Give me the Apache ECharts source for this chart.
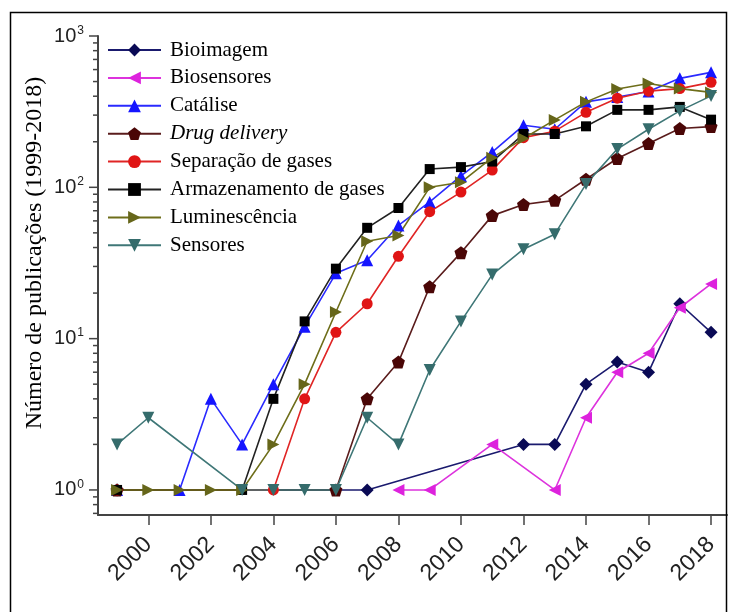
<!DOCTYPE html>
<html>
<head>
<meta charset="utf-8">
<script src="https://cdn.jsdelivr.net/npm/echarts@6/dist/echarts.min.js"></script>
<style>
  html, body { margin: 0; padding: 0; background: #ffffff; }
  #chart { width: 729px; height: 612px; }
</style>
</head>
<body>
<div id="chart"></div>
<script>
// Publication counts per research area, 1999–2018 (null = no publications recorded)
const years = [1999, 2000, 2001, 2002, 2003, 2004, 2005, 2006, 2007, 2008,
               2009, 2010, 2011, 2012, 2013, 2014, 2015, 2016, 2017, 2018];

const bioimagem      = [1, null, null, null, null, null, null, null, 1, null,
                        null, null, null, 2, 2, 5, 7, 6, 17, 11];
const biosensores    = [null, null, null, null, null, null, null, null, null, 1,
                        1, null, 2, null, 1, 3, 6, 8, 16, 23];
const catalise       = [1, null, 1, 4, 2, 5, 12, 27, 33, 56,
                        80, 119, 171, 257, 242, 367, 395, 430, 525, 575];
const drugDelivery   = [1, null, null, null, null, null, null, 1, 4, 7,
                        22, 37, 65, 77, 82, 113, 155, 195, 245, 252];
const separacaoGases = [1, null, null, null, null, 1, 4, 11, 17, 35,
                        69, 93, 130, 213, 235, 313, 388, 432, 449, 494];
const armazenamento  = [1, null, null, null, 1, 4, 13, 29, 54, 73,
                        132, 136, 148, 225, 225, 253, 325, 325, 340, 280];
const luminescencia  = [1, 1, 1, 1, 1, 2, 5, 15, 44, 48,
                        100, 108, 157, 210, 279, 367, 446, 486, 449, 424];
const sensores       = [2, 3, null, null, 1, 1, 1, 1, 3, 2,
                        6.2, 13, 26.5, 39, 49, 105, 179, 242, 320, 402];

const seriesNames = ['Bioimagem', 'Biosensores', 'Catálise', 'Drug delivery',
                     'Separação de gases', 'Armazenamento de gases', 'Luminescência', 'Sensores'];

// Axis ticks
const xTickYears = [2000, 2002, 2004, 2006, 2008, 2010, 2012, 2014, 2016, 2018];
const yMajorTicks = [1, 10, 100, 1000];
const yMinorTicks = [0.7, 0.8, 0.9];
for (const decade of [1, 10, 100]) {
  for (let k = 2; k <= 9; k++) yMinorTicks.push(k * decade);
}

const yAxisTitle = 'Número de publicações (1999-2018)';

// Marker shapes
const DIAMOND = 'path://M0,-1 L1,0 L0,1 L-1,0 Z';
const PENTAGON = 'path://M0,-1 L0.951,-0.309 L0.588,0.809 L-0.588,0.809 L-0.951,-0.309 Z';

const SANS = '"Liberation Sans", Arial, sans-serif';
const SERIF = '"Liberation Serif", "Times New Roman", serif';

function toPairs(values) {
  return years.map((y, i) => (values[i] == null ? null : [y, values[i]])).filter(Boolean);
}

function lineSeries(name, values, color, symbol, size, rotate, markColor) {
  return {
    name: name,
    type: 'line',
    data: toPairs(values),
    symbol: symbol,
    symbolSize: size,
    symbolRotate: rotate,
    showAllSymbol: true,
    lineStyle: { color: color, width: 1.6 },
    itemStyle: { color: markColor || color, borderWidth: 0 },
    emphasis: { disabled: true }
  };
}

const chart = echarts.init(document.getElementById('chart'), null, { renderer: 'canvas' });

const option = {
  animation: false,
  backgroundColor: '#ffffff',
  grid: { left: 98, right: 2, top: 36, bottom: 97, containLabel: false },
  legend: {
    orient: 'vertical',
    left: 102,
    top: 34,
    itemWidth: 53,
    itemHeight: 16,
    itemGap: 5.9,
    data: seriesNames,
    textStyle: {
      fontFamily: SERIF,
      fontSize: 21,
      lineHeight: 22,
      color: '#000000',
      padding: [0, 0, 0, 4],
      rich: {
        it: { fontFamily: SERIF, fontSize: 21, fontStyle: 'italic', color: '#000000', lineHeight: 22 }
      }
    },
    formatter: function (name) {
      return name === 'Drug delivery' ? '{it|' + name + '}' : name;
    }
  },
  xAxis: {
    type: 'value',
    min: 1998.39,
    max: 2018.51,
    splitLine: { show: false },
    axisLine: { show: true, onZero: false, lineStyle: { color: '#444444', width: 2 } },
    axisTick: {
      show: true,
      customValues: xTickYears,
      length: 10,
      lineStyle: { color: '#444444', width: 1.5 }
    },
    axisLabel: {
      customValues: xTickYears,
      rotate: 45,
      margin: 26,
      fontFamily: SANS,
      fontSize: 23,
      color: '#222222',
      formatter: function (v) { return String(Math.round(v)); }
    }
  },
  yAxis: {
    type: 'log',
    logBase: 10,
    min: 0.683,
    max: 1000,
    splitLine: { show: false },
    axisLine: { show: true, lineStyle: { color: '#444444', width: 2 } },
    axisTick: { show: false },
    axisLabel: {
      margin: 14,
      formatter: function (v) {
        const e = Math.log10(v);
        if (Math.abs(e - Math.round(e)) > 1e-6) return '';
        return '{b|10}{s|' + Math.round(e) + '}';
      },
      rich: {
        b: { fontFamily: SANS, fontSize: 20, color: '#222222' },
        s: { fontFamily: SANS, fontSize: 12, color: '#222222', padding: [0, 0, 11, 1] }
      }
    }
  },
  series: [
    lineSeries('Bioimagem', bioimagem, '#1a1a6e', DIAMOND, 13, 0, '#0a0a55'),
    lineSeries('Biosensores', biosensores, '#dd33dd', 'triangle', 12, 90, '#dd22dd'),
    lineSeries('Catálise', catalise, '#2a2aff', 'triangle', 12, 0, '#1515ff'),
    lineSeries('Drug delivery', drugDelivery, '#5a1c1c', PENTAGON, 13, 0, '#4a0606'),
    lineSeries('Separação de gases', separacaoGases, '#e02525', 'circle', 11, 0, '#e01515'),
    lineSeries('Armazenamento de gases', armazenamento, '#222222', 'rect', 10, 0, '#000000'),
    lineSeries('Luminescência', luminescencia, '#6e6e1a', 'triangle', 12, -90, '#66661a'),
    lineSeries('Sensores', sensores, '#3f7777', 'triangle', 12, 180, '#356c6c')
  ]
};

chart.setOption(option);

// Log-axis tick marks (majors at each decade, minors at 2..9) placed with the axis scale
const axisX = chart.convertToPixel({ xAxisIndex: 0 }, 1998.39);
const tickGraphics = [];
yMajorTicks.forEach(function (v) {
  const y = chart.convertToPixel({ yAxisIndex: 0 }, v);
  tickGraphics.push({
    type: 'line', silent: true,
    shape: { x1: axisX - 9, y1: y, x2: axisX, y2: y },
    style: { stroke: '#444444', lineWidth: 1.5 }
  });
});
yMinorTicks.forEach(function (v) {
  const y = chart.convertToPixel({ yAxisIndex: 0 }, v);
  tickGraphics.push({
    type: 'line', silent: true,
    shape: { x1: axisX - 5, y1: y, x2: axisX, y2: y },
    style: { stroke: '#444444', lineWidth: 1.5 }
  });
});

chart.setOption({
  graphic: [
    {
      type: 'rect', silent: true, z: 100,
      shape: { x: 10.5, y: 12.5, width: 716, height: 640 },
      style: { fill: 'none', stroke: '#000000', lineWidth: 1.5 }
    },
    {
      type: 'text', silent: true,
      x: 35, y: 253,
      rotation: Math.PI / 2,
      style: {
        text: yAxisTitle,
        fontFamily: SERIF,
        fontSize: 24,
        fill: '#000000',
        align: 'center',
        verticalAlign: 'middle'
      }
    }
  ].concat(tickGraphics)
});
</script>
</body>
</html>
